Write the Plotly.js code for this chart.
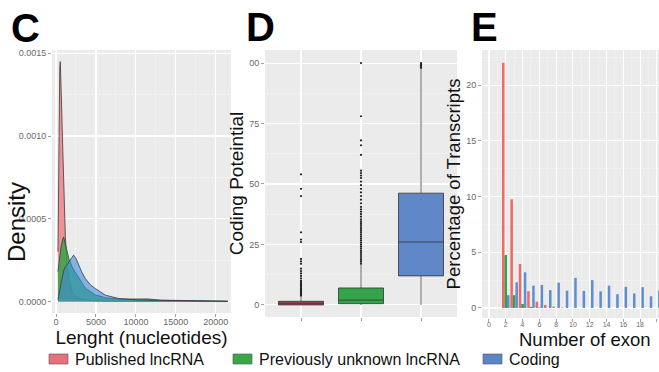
<!DOCTYPE html>
<html>
<head>
<meta charset="utf-8">
<script src="https://cdn.plot.ly/plotly-3.0.1.min.js"></script>
<style>html,body{margin:0;padding:0;background:#fff;}#chart{width:659px;height:372px;}</style>
</head>
<body>
<div id="chart"></div>
<script>
// ---------- Panel C: length densities ----------
const pubLen  = [250, 300, 340, 400, 470, 540, 620, 720, 830, 960, 1170, 1400, 1700, 2000, 2500, 3000, 4000, 6000, 10000, 15000, 21500];
const pubDens = [0.0003, 0.00065, 0.00095, 0.00125, 0.00142, 0.00145, 0.00135, 0.00115, 0.00095, 0.00068, 0.00039, 0.00022, 0.00011, 0.00006, 0.00003, 0.000015, 0.000006, 0.000002, 0.000001, 0.0000005, 0];

const novLen  = [250, 400, 600, 800, 960, 1100, 1370, 1600, 2000, 2500, 2830, 3670, 4920, 6170, 8000, 9500, 10500, 11500, 13000, 16000, 21500];
const novDens = [0.00018, 0.00025, 0.00032, 0.00037, 0.00039, 0.00036, 0.0003, 0.00026, 0.00021, 0.00017, 0.00014, 0.00008, 0.00004, 0.000022, 0.000014, 0.000016, 0.000018, 0.000015, 0.000008, 0.000004, 0.000001];

const codLen  = [250, 500, 750, 1000, 1170, 1500, 1790, 2000, 2200, 2500, 2830, 3200, 3670, 4300, 4920, 6170, 7830, 9900, 12000, 15000, 18000, 21500];
const codDens = [0.00001, 0.00008, 0.000138, 0.00019, 0.00021, 0.00023, 0.00025, 0.000268, 0.00028, 0.00026, 0.00022, 0.00018, 0.000138, 0.0001, 0.000078, 0.000038, 0.000018, 0.00001, 0.000007, 0.000004, 0.000002, 0.000001];

const lenTicks = [0, 5000, 10000, 15000, 20000];
const densTicks = [0, 0.0005, 0.0010, 0.0015];
const densTickText = ['0.0000', '0.0005', '0.0010', '0.0015'];

// ---------- Panel D: coding potential boxes ----------
const groups = ['Published lncRNA', 'Previously unknown lncRNA', 'Coding'];
const boxLow    = [0, 0, 0];
const boxQ1     = [0, 0.5, 12];
const boxMedian = [0.7, 2, 26];
const boxQ3     = [1.5, 7, 46.2];
const boxHigh   = [3.5, 16.5, 97.5];
const pubOut = [3.8, 4.2, 4.6, 5, 5.4, 5.8, 6.2, 6.6, 7, 7.5, 8, 8.5, 9, 9.5, 10, 11, 12, 13, 14, 15, 17, 18, 19, 26, 27, 30, 45, 48, 54];
const novOut = [17, 17.8, 18.6, 19.4, 20.2, 21, 21.8, 22.6, 23.4, 24.2, 25, 25.8, 26.6, 27.4, 28.2, 29, 29.8, 30.6, 31.4, 32.2, 33, 33.8, 34.6, 35.4, 36.5, 37.5, 38.5, 39.5, 40.5, 42, 43.5, 45, 46.5, 48, 49.5, 51, 52.5, 53.5, 54.5, 55.5, 62, 66, 68, 78, 100];
const codOut = [98, 98.5, 99, 99.5, 100];
const cpTicks = [0, 25, 50, 75, 100];
const cpTickText = ['0', '25', '50', '75', '00'];

// ---------- Panel E: exon number ----------
const exons  = [2, 3, 4, 5, 6, 7, 8, 9, 10, 11, 12, 13, 14, 15, 16, 17, 18, 19, 20];
const pubPct = [22.0, 9.75, 3.95, 1.5, 0.57, 0.27, 0.12, 0.05, 0, 0, 0, 0, 0, 0, 0, 0, 0, 0, 0];
const novPct = [4.75, 1.15, 0.36, 0.1, 0.05, 0, 0, 0, 0, 0, 0, 0, 0, 0, 0, 0, 0, 0, 0];
const codPct = [1.15, 2.3, 3.2, 2.0, 2.07, 1.6, 2.27, 1.55, 2.7, 1.53, 2.5, 1.5, 2.0, 1.23, 1.9, 1.3, 1.86, 1.05, 1.56];

// ---------- styling ----------
const W = 659, H = 372;
const px = v => v / W;
const py = v => 1 - v / H;
const FONT = 'Liberation Sans, Arial, Helvetica, sans-serif';
const colRed = '#EE6A66', colGreen = '#35A047', colBlue = '#5E8FD3';
const panelBg = '#EBEBEB';

const traces = [];
// C densities
traces.push({type:'scatter', mode:'lines', x: pubLen, y: pubDens, xaxis:'x', yaxis:'y', fill:'tozeroy',
  fillcolor:'rgba(240,110,118,0.72)', line:{color:'#3a3a3a', width:0.8}, showlegend:false, hoverinfo:'skip'});
traces.push({type:'scatter', mode:'lines', x: novLen, y: novDens, xaxis:'x', yaxis:'y', fill:'tozeroy',
  fillcolor:'rgba(40,165,65,0.8)', line:{color:'#3a3a3a', width:0.8}, showlegend:false, hoverinfo:'skip'});
traces.push({type:'scatter', mode:'lines', x: codLen, y: codDens, xaxis:'x', yaxis:'y', fill:'tozeroy',
  fillcolor:'rgba(60,140,222,0.6)', line:{color:'#3a3a3a', width:0.8}, showlegend:false, hoverinfo:'skip'});

// D boxes
const boxFills = ['#A8464A', '#33A548', '#6088C8'];
groups.forEach((g, i) => {
  traces.push({type:'box', x:[g], q1:[boxQ1[i]], median:[boxMedian[i]], q3:[boxQ3[i]],
    lowerfence:[boxLow[i]], upperfence:[boxHigh[i]], xaxis:'x2', yaxis:'y2', width:0.75, whiskerwidth:0,
    fillcolor: boxFills[i], line:{color:'#333333', width:0.8}, boxpoints:false, showlegend:false, hoverinfo:'skip'});
});
const outs = [pubOut, novOut, codOut];
groups.forEach((g, i) => {
  traces.push({type:'scatter', mode:'markers', x: outs[i].map(() => g), y: outs[i], xaxis:'x2', yaxis:'y2',
    marker:{color:'#222', size:2.2}, showlegend:false, hoverinfo:'skip'});
});

// E bars
traces.push({type:'bar', x: exons, y: pubPct, xaxis:'x3', yaxis:'y3', marker:{color:colRed}, name:'Published lncRNA', showlegend:false});
traces.push({type:'bar', x: exons, y: novPct, xaxis:'x3', yaxis:'y3', marker:{color:colGreen}, name:'Previously unknown lncRNA', showlegend:false});
traces.push({type:'bar', x: exons, y: codPct, xaxis:'x3', yaxis:'y3', marker:{color:colBlue}, name:'Coding', showlegend:false});

const tickFont = {family: FONT, size: 9, color: '#6a6a6a'};
const titleFont = {family: FONT, size: 19, color: '#111'};
const baseAxis = {
  showline:false, zeroline:false, gridcolor:'#FFFFFF', gridwidth:1.1,
  ticks:'outside', ticklen:3, tickwidth:0.8, tickcolor:'#888', tickfont: tickFont, automargin:false, fixedrange:true
};
function minorGrid(d){ return {dtick:d, showgrid:true, gridcolor:'#F6F6F6', gridwidth:0.5, ticks:''}; }

const layout = {
  width: W, height: H,
  margin: {l:0, r:0, t:0, b:0},
  paper_bgcolor:'#FFFFFF', plot_bgcolor: panelBg,
  showlegend:false,
  barmode:'group', bargap:0.1, bargroupgap:0, boxmode:'overlay',
  font:{family: FONT},
  xaxis: Object.assign({}, baseAxis, {domain:[px(52), px(231)], anchor:'y', range:[-500, 21900],
    tickmode:'array', tickvals: lenTicks, ticktext: lenTicks.map(String), minor: minorGrid(2500),
    ticklabelstandoff: -3,
    title:{text:'Lenght (nucleotides)', font: titleFont, standoff: 0}}),
  yaxis: Object.assign({}, baseAxis, {domain:[py(313), py(50)], anchor:'x', range:[-0.00007, 0.00152],
    tickmode:'array', tickvals: densTicks, ticktext: densTickText, minor: minorGrid(0.00025)}),
  xaxis2: Object.assign({}, baseAxis, {domain:[px(265), px(457)], anchor:'y2', type:'category',
    categoryorder:'array', categoryarray: groups, range:[-0.6, 2.6], showticklabels:false}),
  yaxis2: Object.assign({}, baseAxis, {domain:[py(317), py(50)], anchor:'x2', range:[-5, 105.4],
    tickmode:'array', tickvals: cpTicks, ticktext: cpTickText, minor: minorGrid(12.5),
    title:{text:'Coding Poteintial', font: titleFont, standoff: 0}}),
  xaxis3: Object.assign({}, baseAxis, {domain:[px(482), 1], anchor:'y3', range:[-0.83, 20.25],
    tickmode:'linear', tick0:0, dtick:2, minor: minorGrid(1), ticklabelstandoff: -3,
    tickfont:{family:FONT, size:7, color:'#6a6a6a'}}),
  yaxis3: Object.assign({}, baseAxis, {domain:[py(318), py(50)], anchor:'x3', range:[-0.9, 23.15],
    tickmode:'linear', tick0:0, dtick:5, minor: minorGrid(2.5),
    title:{text:'Percentage of Transcripts', font: {family: FONT, size: 18.5, color:'#111'}, standoff: 0}}),
  shapes: [],
  annotations: []
};

// panel letters
[['C', 9, 28], ['D', 244, 27], ['E', 469, 27]].forEach(([t, x, y]) => {
  layout.annotations.push({text:'<b>' + t + '</b>', xref:'paper', yref:'paper', x: px(x), y: py(y),
    xanchor:'left', yanchor:'middle', showarrow:false, font:{family: FONT, size: 40, color:'#000'}});
});
// extra axis titles placed as in the reference
layout.annotations.push({text:'Density', xref:'paper', yref:'paper', x: px(16), y: py(222), textangle:-90,
  xanchor:'center', yanchor:'middle', showarrow:false, font:{family: FONT, size: 24, color:'#111'}});
layout.annotations.push({text:'Number of exon', xref:'paper', yref:'paper', x: px(585), y: py(339),
  xanchor:'center', yanchor:'middle', showarrow:false, borderpad:0, font:{family: FONT, size: 18.5, color:'#111'}});

// legend
const legendItems = [['Published lncRNA', '#E8707A', 49], ['Previously unknown lncRNA', '#3AA84A', 233], ['Coding', '#5B86C6', 483]];
legendItems.forEach(([label, color, x0]) => {
  layout.shapes.push({type:'rect', xref:'paper', yref:'paper', x0: px(x0), x1: px(x0 + 19), y0: py(364), y1: py(354),
    fillcolor: color, line:{color:'#555', width:0.6}});
  layout.annotations.push({text: label, xref:'paper', yref:'paper', x: px(x0 + 24), y: py(359),
    xanchor:'left', yanchor:'middle', showarrow:false, font:{family: FONT, size: 16, color:'#111'}});
});

Plotly.newPlot('chart', traces, layout, {staticPlot:true, displayModeBar:false});
</script>
</body>
</html>
